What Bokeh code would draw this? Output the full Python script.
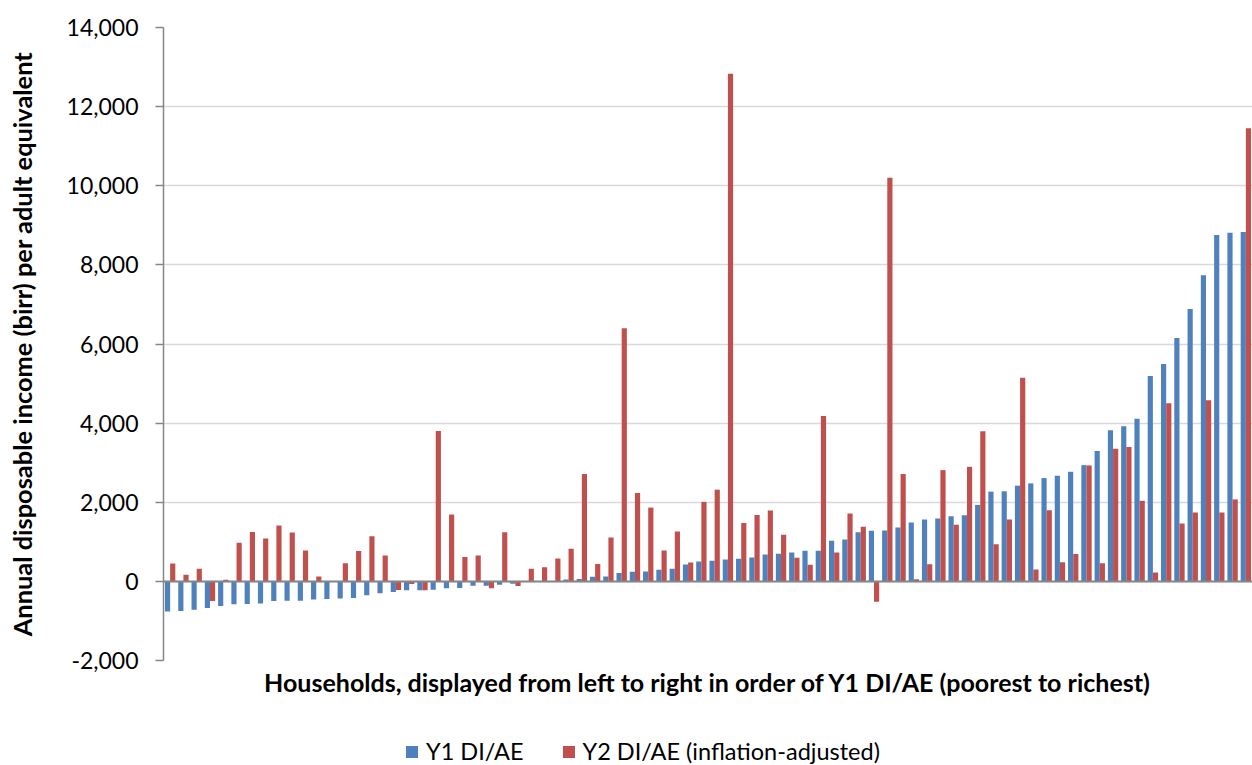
from bokeh.plotting import figure
from bokeh.layouts import column
from bokeh.models import (ColumnDataSource, Range1d, Span, Legend, LegendItem,
                          NumeralTickFormatter, FixedTicker)
from bokeh.transform import dodge
from bokeh.embed import file_html
from bokeh.resources import INLINE

# Households ranked by Y1 disposable income per adult equivalent (poorest first)
household_rank = list(range(1, 83))

# Y1 DI/AE (birr)
y1_diae = [
    -760, -750, -715, -670, -620, -580, -570, -560, -495, -487,
    -487, -455, -445, -430, -420, -353, -302, -270, -227, -227,
    -210, -176, -168, -110, -110, -84, -59, -15, 0, 10,
    50, 58, 118, 126, 210, 244, 252, 294, 319, 428,
    504, 521, 554, 571, 605, 680, 697, 731, 773, 773,
    1025, 1058, 1243, 1277, 1285, 1361, 1487, 1565, 1590, 1649,
    1674, 1933, 2268, 2277, 2419, 2477, 2611, 2670, 2770, 2938,
    3298, 3820, 3919, 4109, 5190, 5496, 6154, 6884, 7740, 8758,
    8812, 8830,
]

# Y2 DI/AE, inflation-adjusted (birr)
y2_diae = [
    450, 170, 320, -495, 40, 975, 1250, 1085, 1410, 1235,
    780, 125, 0, 460, 765, 1142, 655, -218, -67, -227,
    3800, 1690, 613, 655, -176, 1243, -118, 320, 355, 580,
    823, 2713, 437, 1109, 6400, 2234, 1865, 781, 1260, 479,
    2008, 2318, 12830, 1478, 1680, 1789, 1176, 596, 420, 4183,
    731, 1714, 1378, -512, 10200, 2713, 55, 435, 2812, 1431,
    2896, 3792, 937, 1565, 5148, 301, 1800, 485, 695, 2930,
    460, 3352, 3397, 2036, 225, 4505, 1460, 1739, 4577, 1739,
    2072, 11452,
]

series_labels = ["Y1 DI/AE", "Y2 DI/AE (inflation-adjusted)"]
y_ticks = [-2000, 0, 2000, 4000, 6000, 8000, 10000, 12000, 14000]

BLUE = "#4F81BD"
RED = "#C0504D"
FONT = "Lato"

source = ColumnDataSource(dict(rank=household_rank, y1=y1_diae, y2=y2_diae))

# ---- main chart -------------------------------------------------------------
p = figure(
    width=1252, height=725,
    x_range=Range1d(0.5, len(household_rank) + 0.5),
    y_range=Range1d(-2000, 14000),
    output_backend="svg", toolbar_location=None,
    min_border_left=163, min_border_right=0,
    min_border_top=27, min_border_bottom=65,
)
p.outline_line_color = None
p.background_fill_color = "white"
p.border_fill_color = "white"

bar_w = 0.39
r1 = p.vbar(x=dodge("rank", -0.195), top="y1", width=bar_w,
            source=source, fill_color=BLUE, line_color=None)
r2 = p.vbar(x=dodge("rank", 0.195), top="y2", width=bar_w,
            source=source, fill_color=RED, line_color=None)

# zero line doubling as the category axis
p.add_layout(Span(location=0, dimension="width", line_color="#868686", line_width=2))

# grid
p.xgrid.grid_line_color = None
p.ygrid.grid_line_color = "#d9d9d9"
p.ygrid.grid_line_width = 1.5
p.ygrid.ticker = FixedTicker(ticks=y_ticks)

# y axis
p.yaxis.ticker = FixedTicker(ticks=y_ticks)
p.yaxis.formatter = NumeralTickFormatter(format="0,0")
p.yaxis.axis_line_color = "#868686"
p.yaxis.axis_line_width = 1.5
p.yaxis.major_tick_line_color = "#868686"
p.yaxis.major_tick_line_width = 1.5
p.yaxis.major_tick_out = 8
p.yaxis.major_tick_in = 0
p.yaxis.minor_tick_line_color = None
p.yaxis.major_label_standoff = 17
p.yaxis.major_label_text_font = FONT
p.yaxis.major_label_text_font_size = "23px"
p.yaxis.major_label_text_color = "#000000"
p.yaxis.axis_label = "Annual disposable income (birr) per adult equivalent"
p.yaxis.axis_label_text_font = FONT
p.yaxis.axis_label_text_font_style = "bold"
p.yaxis.axis_label_text_font_size = "25.4px"
p.yaxis.axis_label_text_color = "#000000"
p.yaxis.axis_label_standoff = 27

# x axis: no ticks, only its title
p.xaxis.ticker = FixedTicker(ticks=[])
p.xaxis.axis_line_color = None
p.xaxis.major_tick_line_color = None
p.xaxis.minor_tick_line_color = None
p.xaxis.major_label_standoff = 0
p.xaxis.major_tick_out = 0
p.xaxis.axis_label = ("Households, displayed from left to right in order of "
                      "Y1 DI/AE (poorest to richest)")
p.xaxis.axis_label_text_font = FONT
p.xaxis.axis_label_text_font_style = "bold"
p.xaxis.axis_label_text_font_size = "25px"
p.xaxis.axis_label_text_color = "#000000"
p.xaxis.axis_label_standoff = 6

# ---- legend strip under the chart ---------------------------------------------
lg = figure(
    width=1252, height=40,
    x_range=Range1d(0, 1), y_range=Range1d(0, 1),
    x_axis_type=None, y_axis_type=None,
    output_backend="svg", toolbar_location=None,
    min_border_left=0, min_border_right=0, min_border_top=0, min_border_bottom=0,
)
lg.outline_line_color = None
lg.grid.grid_line_color = None
# zero-size swatch renderers that carry the series colours into the legend
key1 = lg.vbar(x="rank", top=0, bottom=0, width=0, source=source,
               fill_color=BLUE, line_color=None)
key2 = lg.vbar(x="rank", top=0, bottom=0, width=0, source=source,
               fill_color=RED, line_color=None)

legend = Legend(
    items=[LegendItem(label=series_labels[0], renderers=[key1]),
           LegendItem(label=series_labels[1], renderers=[key2])],
    orientation="horizontal",
    location=(241, 0),
    glyph_width=15, glyph_height=15,
    label_standoff=7, spacing=37, padding=0, margin=0,
    label_text_font=FONT, label_text_font_size="23.5px", label_text_color="#000000",
    border_line_color=None, background_fill_alpha=0,
)
lg.add_layout(legend, "center")

layout = column(p, lg, spacing=0)
open("out.html", "w").write(file_html(layout, INLINE))
